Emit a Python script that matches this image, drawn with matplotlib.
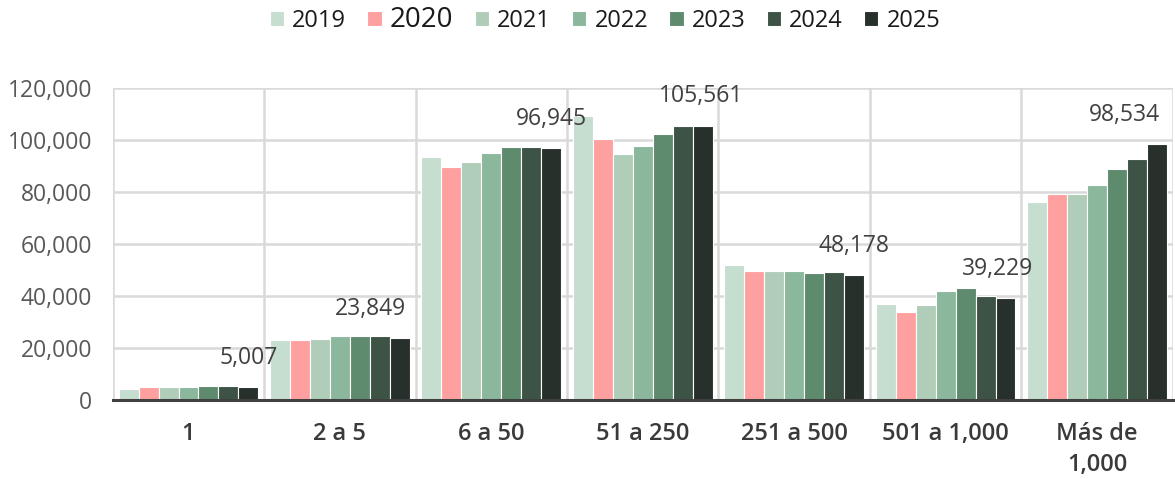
import numpy as np
import matplotlib
matplotlib.use("Agg")
import matplotlib.pyplot as plt
from matplotlib.ticker import FuncFormatter

# Datos: empresas por tamaño (número de empleados)
categories = ["1", "2 a 5", "6 a 50", "51 a 250", "251 a 500", "501 a 1,000", "Más de\n1,000"]
years = ["2019", "2020", "2021", "2022", "2023", "2024", "2025"]

v2019 = [4200, 23100, 93600, 109200, 51800, 37000, 76300]
v2020 = [4900, 23100, 89500, 100300, 49700, 34000, 79300]
v2021 = [4900, 23600, 91700, 94700, 49700, 36400, 79300]
v2022 = [4900, 24700, 95100, 97700, 49700, 42000, 82900]
v2023 = [5400, 24700, 97200, 102300, 49000, 43100, 89000]
v2024 = [5400, 24700, 97200, 105400, 49200, 40000, 92600]
v2025 = [5007, 23849, 96945, 105561, 48178, 39229, 98534]

series = [v2019, v2020, v2021, v2022, v2023, v2024, v2025]
colors = ["#c6decf", "#ffa0a0", "#b0cdb9", "#8bb89c", "#5e8b6d", "#3c5345", "#27302b"]

# desplazamiento horizontal (px) de las etiquetas de 2025 respecto a su barra
label_dx = [0, -29, 0, -2, 0, -8, -32]

fig = plt.figure(figsize=(11.75, 4.79), dpi=100)
ax = fig.add_axes([0.096, 0.165, 0.902, 0.651])

x = np.arange(len(categories))
bar_w = 0.132
for i, (vals, col, yr) in enumerate(zip(series, colors, years)):
    ax.bar(x + (i - 3) * bar_w, vals, width=bar_w, color=col, edgecolor="white",
           linewidth=0.8, label=yr, zorder=3)

# etiquetas de datos para 2025
for xi, val, dx in zip(x, v2025, label_dx):
    ax.annotate(f"{val:,}", (xi + 3 * bar_w, val), xytext=(dx * 0.72, 21),
                textcoords="offset points", ha="center", va="center",
                fontsize=16.5, color="#404040", family="Open Sans")

ax.set_xlim(-0.5, len(categories) - 0.5)
ax.set_ylim(0, 120000)
ax.set_yticks(np.arange(0, 120001, 20000))
ax.yaxis.set_major_formatter(FuncFormatter(lambda v, p: f"{int(v):,}"))

# cuadrícula: horizontales y separadores verticales entre categorías
ax.yaxis.grid(True, color="#d9d9d9", linewidth=1.8, zorder=0)
for b in np.arange(-0.5, len(categories), 1):
    ax.axvline(b, color="#d9d9d9", linewidth=1.8, zorder=0)

for s in ["top", "right", "left"]:
    ax.spines[s].set_visible(False)
ax.spines["bottom"].set_color("#404040")
ax.spines["bottom"].set_linewidth(2.2)
ax.spines["bottom"].set_zorder(4)

ax.tick_params(axis="y", length=0, labelsize=16.5, labelcolor="#595959", pad=15)
ax.tick_params(axis="x", length=0, pad=16)
for t in ax.get_yticklabels():
    t.set_family("Open Sans")
ax.set_xticks(x)
ax.set_xticklabels(categories, fontsize=17, color="#3a3a3a", fontweight=600,
                   family="Open Sans", linespacing=1.4)

leg = fig.legend(loc="center", bbox_to_anchor=(0.515, 0.958), ncol=7, frameon=False,
                 handlelength=0.6, handleheight=0.6, handletextpad=0.35, columnspacing=0.9,
                 prop={"family": "Open Sans", "size": 17})
for t in leg.get_texts():
    t.set_color("#1a1a1a")
leg.get_texts()[1].set_fontsize(20)

fig.savefig("out.png", dpi=100)
